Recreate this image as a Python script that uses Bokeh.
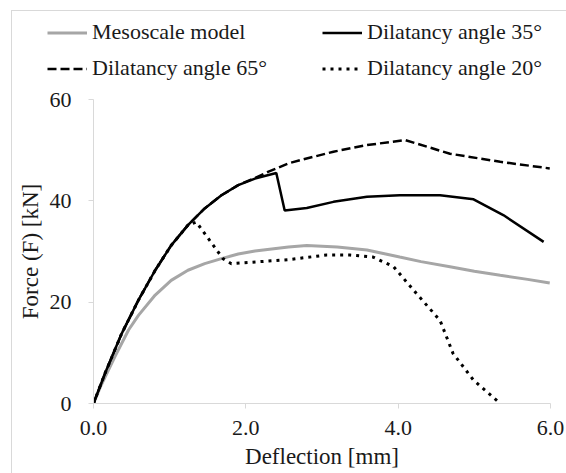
from bokeh.plotting import figure
from bokeh.layouts import column, row
from bokeh.models import Legend, LegendItem, Range1d, FixedTicker, CustomJSTickFormatter
from bokeh.embed import file_html
from bokeh.resources import INLINE

# Data
meso_x = [0.0, 0.1, 0.28, 0.46, 0.59, 0.81, 1.02, 1.24, 1.46, 1.68, 1.90, 2.12, 2.56, 2.80, 3.2, 3.59, 4.02, 4.3, 4.68, 5.0, 5.34, 5.7, 5.99]
meso_y = [0.0, 3.6, 9.2, 14.5, 17.4, 21.4, 24.3, 26.3, 27.6, 28.6, 29.5, 30.1, 30.9, 31.2, 30.9, 30.3, 28.9, 28.0, 27.0, 26.1, 25.3, 24.5, 23.8]

d35_x = [0.0, 0.15, 0.37, 0.59, 0.81, 1.02, 1.24, 1.46, 1.68, 1.90, 2.12, 2.40, 2.51, 2.80, 3.15, 3.59, 4.02, 4.55, 4.99, 5.38, 5.91]
d35_y = [0.0, 5.9, 13.8, 20.4, 26.3, 31.2, 35.2, 38.5, 41.1, 43.1, 44.4, 45.5, 38.1, 38.6, 39.8, 40.8, 41.1, 41.1, 40.3, 37.2, 31.9]

d65_x = [0.0, 0.15, 0.37, 0.59, 0.81, 1.02, 1.24, 1.46, 1.68, 1.90, 2.12, 2.29, 2.56, 2.71, 3.15, 3.59, 4.09, 4.68, 5.34, 5.99]
d65_y = [0.0, 5.9, 13.8, 20.4, 26.3, 31.2, 35.2, 38.5, 41.1, 43.1, 44.5, 45.7, 47.4, 48.0, 49.7, 51.0, 52.0, 49.3, 47.7, 46.4]

d20_x = [0.0, 0.15, 0.37, 0.59, 0.81, 1.02, 1.24, 1.35, 1.70, 1.81, 2.56, 3.06, 3.37, 3.67, 3.94, 4.24, 4.55, 4.72, 4.99, 5.34]
d20_y = [0.0, 5.9, 13.8, 20.4, 26.3, 31.2, 35.2, 35.8, 28.6, 27.6, 28.4, 29.3, 29.3, 28.9, 27.0, 21.7, 16.4, 9.9, 4.6, 0.0]

x_ticks = [0, 2, 4, 6]
y_ticks = [0, 20, 40, 60]
series_labels = ["Mesoscale model", "Dilatancy angle 35°", "Dilatancy angle 65°", "Dilatancy angle 20°"]

FONT = "Liberation Serif"
TXT = "#1a1a1a"
AX = "#d9d9d9"

styles = [dict(line_color="#a6a6a6", line_width=3),
          dict(line_color="black", line_width=2.5),
          dict(line_color="black", line_width=2.5, line_dash="9 4"),
          dict(line_color="black", line_width=3, line_dash="3 5")]

# main chart
p = figure(width=554, height=388, output_backend="svg", toolbar_location=None,
           x_range=Range1d(0, 6), y_range=Range1d(0, 60),
           min_border_left=81, min_border_right=16, min_border_top=14, min_border_bottom=70)
p.outline_line_color = None
p.grid.grid_line_color = None
p.background_fill_color = "white"
p.border_fill_color = "white"

p.line(meso_x, meso_y, **styles[0])
p.line(d35_x, d35_y, **styles[1])
p.line(d65_x, d65_y, **styles[2])
p.line(d20_x, d20_y, **styles[3])

for ax in (p.xaxis[0], p.yaxis[0]):
    ax.axis_line_color = AX
    ax.major_tick_line_color = AX
    ax.minor_tick_line_color = None
    ax.major_tick_in = 0
    ax.major_tick_out = 5
    ax.major_label_text_font = FONT
    ax.major_label_text_font_size = "22px"
    ax.major_label_text_color = TXT
    ax.axis_label_text_font = FONT
    ax.axis_label_text_font_size = "23px"
    ax.axis_label_text_font_style = "normal"
    ax.axis_label_text_color = TXT

p.xaxis.ticker = FixedTicker(ticks=x_ticks)
p.xaxis.formatter = CustomJSTickFormatter(code="return tick.toFixed(1);")
p.yaxis.ticker = FixedTicker(ticks=y_ticks)
p.xaxis.axis_label = "Deflection [mm]"
p.yaxis.axis_label = "Force (F) [kN]"
p.xaxis.major_label_standoff = 12
p.xaxis.axis_label_standoff = 6
p.yaxis.major_label_standoff = 17
p.yaxis.axis_label_standoff = 4

# legend strip above the chart (legend proxies carry one undrawn NaN point)
nan = float("nan")
lf = figure(width=554, height=74, output_backend="svg", toolbar_location=None,
            x_range=Range1d(0, 1), y_range=Range1d(0, 1),
            min_border_left=0, min_border_right=0, min_border_top=0, min_border_bottom=0)
lf.axis.visible = False
lf.grid.grid_line_color = None
lf.outline_line_color = None
lf.background_fill_color = "white"
lf.border_fill_color = "white"
lr = [lf.line(x=[nan], y=[nan], **s) for s in styles]

legend = Legend(items=[LegendItem(label=series_labels[i], renderers=[lr[i]]) for i in range(4)],
                orientation="horizontal", nrows=2,
                label_text_font=FONT, label_text_font_size="22px", label_text_color=TXT,
                glyph_width=40, glyph_height=25, label_height=25, label_standoff=5, spacing=10,
                label_width=220, padding=0, margin=0,
                background_fill_alpha=0, border_line_color=None, location=(35, 4))
lf.add_layout(legend, "center")

layout = column(row(lf), p, spacing=0, margin=(10, 0, 0, 11),
                styles={"border-top": "1px solid #d9d9d9", "border-left": "1px solid #d9d9d9"})
open("out.html", "w").write(file_html(layout, INLINE))
